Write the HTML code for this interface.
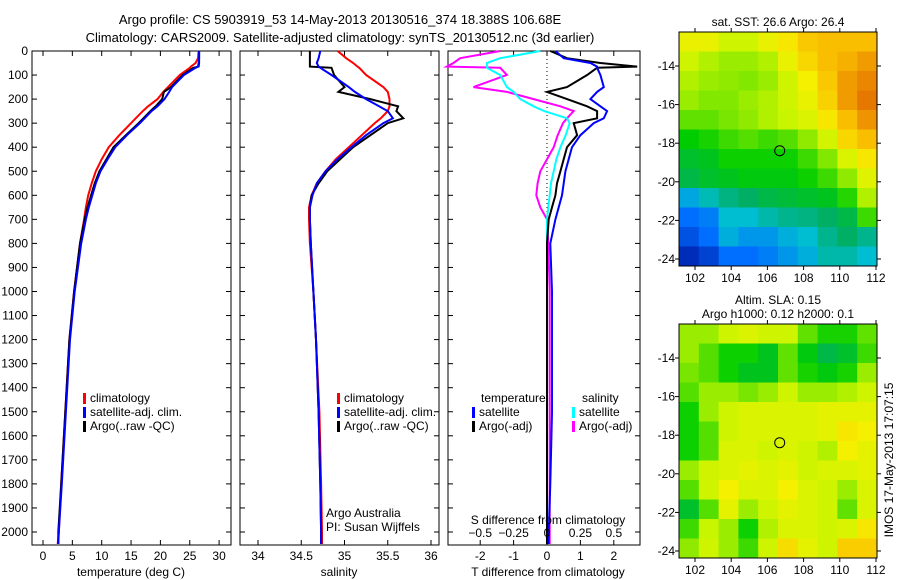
<!DOCTYPE html>
<html><head><meta charset="utf-8">
<style>
body{margin:0;background:#fff;}
svg{display:block;font-family:"Liberation Sans",sans-serif;font-size:12px;}
</style></head>
<body>
<svg id="fig" width="900" height="580" viewBox="0 0 900 580">
<rect width="900" height="580" fill="#fff"/>
<text x="340" y="24" text-anchor="middle" font-size="13">Argo profile: CS 5903919_53 14-May-2013 20130516_374 18.388S 106.68E</text>
<text x="340" y="42" text-anchor="middle" font-size="13">Climatology: CARS2009. Satellite-adjusted climatology: synTS_20130512.nc (3d earlier)</text>
<g id="layer"></g>
<text transform="translate(893,460) rotate(-90)" text-anchor="middle" font-size="12">IMOS 17-May-2013 17:07:15</text>
</svg>
<script>
// ---- data ----
const depths = [0,30,50,65,70,100,150,170,200,230,250,280,300,350,400,450,500,550,600,650,700,800,1000,1200,1500,1800,2000,2050];
const tempClim = [26.5,26.4,26,25.2,25,23.3,21.3,20.5,19.5,17.9,17,15.8,15,13,11.2,10,9,8.3,7.7,7.3,7,6.3,5.3,4.5,3.8,3.1,2.7,2.5];
const tempSat  = [26.6,26.6,26.5,26.4,26,24,22,21.5,20.7,19.5,18.5,17.3,16.5,14.3,12.3,11,9.8,9,8.4,7.8,7.3,6.5,5.4,4.6,3.9,3.2,2.7,2.6];
const tempArgo = [26.6,26.6,26.6,26.5,25.6,23.8,21.8,20.6,20.3,19.2,18.3,17.1,16.3,14.1,12,10.8,9.6,8.8,8.2,7.6,7.1,6.3,5.3,4.5,3.8,3.1,2.6,2.6];
const salClim  = [34.92,35.02,35.1,35.15,35.17,35.25,35.45,35.5,35.52,35.52,35.5,35.42,35.35,35.2,35.05,34.9,34.78,34.68,34.62,34.59,34.59,34.6,34.64,34.67,34.71,34.73,34.74,34.74];
const salSat   = [34.72,34.7,34.68,34.7,34.72,34.85,35.05,35.12,35.25,35.4,35.5,35.56,35.45,35.25,35.08,34.92,34.78,34.68,34.63,34.6,34.6,34.61,34.64,34.67,34.7,34.72,34.73,34.73];
const salArgo  = [34.6,34.6,34.6,34.6,34.85,34.88,35.0,34.93,35.3,35.62,35.6,35.68,35.5,35.3,35.1,34.95,34.8,34.7,34.62,34.6,34.6,34.61,34.64,34.67,34.7,34.72,34.73,34.73];
const dTSat  = [0.25,0.5,1.3,1.5,1.5,1.6,1.7,1.5,1.3,1.6,1.8,1.7,1.4,1.0,0.75,0.65,0.55,0.5,0.45,0.35,0.25,0.1,0.15,0.15,0.15,0.1,0.05,0.05];
const dTArgo = [0.1,0.6,1.6,2.7,1.5,1.2,0.6,0.0,0.6,1.2,1.5,1.5,0.8,0.9,0.6,0.5,0.4,0.3,0.25,0.15,0.05,0,0,0,0,0,0,0];
const dSSat  = [-0.05,-0.35,-0.45,-0.45,-0.45,-0.35,-0.3,-0.25,-0.2,-0.1,-0.02,0.15,0.17,0.14,0.1,0.07,0.05,0.03,0.02,0.01,0,0,0,0,0,0,0,0];
const dSArgo = [-0.35,-0.65,-0.7,-0.75,-0.35,-0.3,-0.55,-0.3,-0.1,0.1,0.2,0.15,0.12,0.08,0.05,0,-0.05,-0.07,-0.08,-0.05,0,0.01,0.02,0.02,0.02,0.02,0.02,0.02];
const depthTicks = [0,100,200,300,400,500,600,700,800,900,1000,1100,1200,1300,1400,1500,1600,1700,1800,1900,2000];
const tempTicks = [0,5,10,15,20,25,30];
const salTicks = [34,34.5,35,35.5,36];
const dTTicks = [-2,-1,0,1,2];
const dSTicks = ['-0.5','-0.25','0','0.25','0.5'];
const lonTicks = [102,104,106,108,110,112];
const latTicks = [-14,-16,-18,-20,-22,-24];
const sstGrid = [
[.68,.68,.63,.63,.68,.72,.78,.8,.8,.8],
[.63,.6,.58,.58,.6,.68,.75,.8,.82,.85],
[.6,.58,.57,.56,.58,.63,.7,.78,.85,.88],
[.58,.56,.56,.58,.6,.63,.68,.76,.85,.9],
[.53,.53,.55,.57,.6,.62,.65,.72,.8,.86],
[.45,.47,.5,.52,.5,.52,.57,.64,.75,.8],
[.42,.43,.46,.46,.46,.46,.5,.56,.65,.72],
[.4,.42,.43,.44,.44,.44,.46,.5,.57,.66],
[.27,.32,.36,.38,.4,.41,.42,.43,.48,.6],
[.2,.22,.3,.3,.33,.35,.36,.38,.4,.5],
[.15,.2,.28,.25,.25,.28,.3,.35,.38,.35],
[.08,.12,.2,.2,.22,.25,.28,.33,.33,.3]];
const slaGrid = [
[.58,.58,.63,.65,.63,.63,.53,.47,.47,.53],
[.58,.52,.46,.46,.43,.53,.44,.4,.42,.5],
[.55,.52,.46,.43,.43,.53,.47,.44,.47,.58],
[.52,.58,.58,.55,.58,.63,.58,.58,.6,.63],
[.46,.58,.63,.65,.65,.65,.65,.67,.67,.67],
[.46,.52,.63,.65,.65,.65,.65,.67,.72,.7],
[.46,.52,.65,.65,.63,.65,.63,.6,.7,.67],
[.58,.63,.65,.67,.65,.67,.63,.65,.65,.67],
[.52,.63,.7,.65,.65,.7,.65,.63,.58,.65],
[.42,.52,.67,.58,.63,.67,.65,.63,.53,.65],
[.5,.62,.58,.46,.6,.65,.65,.63,.65,.72],
[.57,.63,.58,.5,.63,.74,.67,.63,.77,.77]];
const argoLon = 106.68, argoLat = -18.388;

// ---- drawing ----
const NS='http://www.w3.org/2000/svg';
const L=document.getElementById('layer');
function mk(t,a,p){const e=document.createElementNS(NS,t);for(const k in a)e.setAttribute(k,a[k]);(p||L).appendChild(e);return e;}
const yD = d => 51 + d*0.2405;
const PT=51, PB=545;
function panel(x0,x1,name){
  const r=mk('rect',{x:x0,y:PT,width:x1-x0,height:PB-PT,fill:'none',stroke:'#000','stroke-width':1});
  
  
  depthTicks.forEach(d=>{mk('line',{x1:x0,x2:x0+5,y1:yD(d),y2:yD(d),stroke:'#000'});mk('line',{x1:x1,x2:x1-5,y1:yD(d),y2:yD(d),stroke:'#000'});});
}
function line(xs,xf,color,name,w){
  const pts=depths.map((d,i)=>xf(xs[i]).toFixed(1)+','+yD(d).toFixed(1)).join(' ');
  const p=mk('polyline',{points:pts,fill:'none',stroke:color,'stroke-width':w||2});
  
  
}
function txt(x,y,s,anchor,size,name){
  const t=mk('text',{x:x,y:y,'text-anchor':anchor||'start','font-size':size||12});t.textContent=s;
  
  
  return t;
}
depthTicks.forEach(d=>txt(28,yD(d)+4,String(d),'end',12,'y-tick-label'));
const xT=v=>43+v*5.87;
panel(32,231,'temperature-panel');
tempTicks.forEach(v=>{mk('line',{x1:xT(v),x2:xT(v),y1:PB,y2:PB-5,stroke:'#000'});mk('line',{x1:xT(v),x2:xT(v),y1:PT,y2:PT+5,stroke:'#000'});txt(xT(v),560,String(v),'middle',12,'x-tick-label');});
line(tempClim,xT,'#f00','temp-climatology-line');
line(tempArgo,xT,'#000','temp-argo-line');
line(tempSat,xT,'#00f','temp-satellite-line');
txt(131,576,'temperature (deg C)','middle',12,'x-axis-title-temperature');
function legend(x,y,items){items.forEach((it,i)=>{mk('rect',{x:x,y:y+i*14-9,width:3,height:11,fill:it[0]});txt(x+7,y+i*14,it[1],'start',12,'legend-entry');});}
legend(83,402,[['#f00','climatology'],['#00f','satellite-adj. clim.'],['#000','Argo(..raw -QC)']]);
const xS=v=>258+(v-34)*86.5;
panel(240,439,'salinity-panel');
salTicks.forEach(v=>{mk('line',{x1:xS(v),x2:xS(v),y1:PB,y2:PB-5,stroke:'#000'});mk('line',{x1:xS(v),x2:xS(v),y1:PT,y2:PT+5,stroke:'#000'});txt(xS(v),560,String(v),'middle',12,'x-tick-label');});
line(salClim,xS,'#f00','sal-climatology-line');
line(salArgo,xS,'#000','sal-argo-line');
line(salSat,xS,'#00f','sal-satellite-line');
txt(339,576,'salinity','middle',12,'x-axis-title-salinity');
legend(337,402,[['#f00','climatology'],['#00f','satellite-adj. clim.'],['#000','Argo(..raw -QC)']]);
txt(326,517,'Argo Australia','start',12,'credit-argo-australia');
txt(326,531,'PI: Susan Wijffels','start',12,'credit-pi');
const xDT=v=>547+v*33.4, xDS=v=>547+v*133.6;
panel(448,640,'difference-panel');
mk('line',{x1:547,x2:547,y1:PT,y2:PB,stroke:'#000','stroke-dasharray':'1,3'});
dTTicks.forEach(v=>{mk('line',{x1:xDT(v),x2:xDT(v),y1:PB,y2:PB-5,stroke:'#000'});mk('line',{x1:xDT(v),x2:xDT(v),y1:PT,y2:PT+5,stroke:'#000'});txt(xDT(v),560,String(v),'middle',12,'x-tick-label');});
line(dSArgo,xDS,'#f0f','sal-diff-argo-line');
line(dSSat,xDS,'#0ff','sal-diff-satellite-line');
line(dTArgo,xDT,'#000','temp-diff-argo-line');
line(dTSat,xDT,'#00f','temp-diff-satellite-line');
dSTicks.forEach(v=>txt(xDS(parseFloat(v)),537,v.replace('-','\u2212'),'middle',12,'s-tick-label'));
txt(548,524,'S difference from climatology','middle',12,'s-axis-title');
txt(548,576,'T difference from climatology','middle',12,'t-axis-title');
txt(481,402,'temperature','start',12,'legend-title-temperature');
txt(582,402,'salinity','start',12,'legend-title-salinity');
legend(472,416,[['#00f','satellite'],['#000','Argo(-adj)']]);
legend(572,416,[['#0ff','satellite'],['#f0f','Argo(-adj)']]);
const stops=[[0,[0,0,140]],[.2,[0,110,255]],[.3,[0,190,210]],[.38,[0,175,100]],[.45,[0,205,0]],[.55,[120,230,0]],[.62,[200,245,0]],[.7,[245,240,0]],[.8,[250,190,0]],[.9,[230,120,0]],[1,[200,60,0]]];
function cmap(v){for(let i=1;i<stops.length;i++){if(v<=stops[i][0]){const a=stops[i-1],b=stops[i],t=(v-a[0])/(b[0]-a[0]);return 'rgb('+a[1].map((c,k)=>Math.round(c+(b[1][k]-c)*t)).join(',')+')';}}return 'rgb(200,60,0)';}
function map(y0,grid,name,title){
  const x0=679,x1=877,y1=y0+234;
  const lonX=l=>695+(l-102)*18.1, latY=la=>(y0+34)+(-14-la)*19.3;
  const g=mk('g',{});
  
  
  const rows=grid.length, cols=grid[0].length, cw=(x1-x0)/cols, ch=(y1-y0)/rows;
  grid.forEach((row,r)=>row.forEach((v,c)=>{
    const cell=mk('rect',{x:x0+c*cw,y:y0+r*ch,width:cw+0.5,height:ch+0.5,fill:cmap(v)},g);
    
    
  }));
  mk('rect',{x:x0,y:y0,width:x1-x0,height:y1-y0,fill:'none',stroke:'#000'},g);
  lonTicks.forEach(l=>{const x=lonX(l);mk('line',{x1:x,x2:x,y1:y1,y2:y1+4,stroke:'#000'},g);mk('line',{x1:x,x2:x,y1:y0,y2:y0-4,stroke:'#000'},g);txt(x,y1+16,String(l),'middle',12,'lon-tick-label');});
  latTicks.forEach(la=>{const y=latY(la);mk('line',{x1:x0,x2:x0-4,y1:y,y2:y,stroke:'#000'},g);mk('line',{x1:x1,x2:x1+4,y1:y,y2:y,stroke:'#000'},g);txt(675,y+4,String(la),'end',12,'lat-tick-label');});
  const c=mk('circle',{cx:lonX(argoLon),cy:latY(argoLat),r:5,fill:'none',stroke:'#000'},g);
  
  
  title.forEach((t,i)=>txt(778,y0-(title.length-i)*14+8,t,'middle',12,'map-title'));
}
map(32,sstGrid,'sst-map',['sat. SST: 26.6 Argo: 26.4']);
map(324,slaGrid,'sla-map',['Altim. SLA: 0.15','Argo h1000: 0.12 h2000: 0.1']);
</script>
</body></html>
